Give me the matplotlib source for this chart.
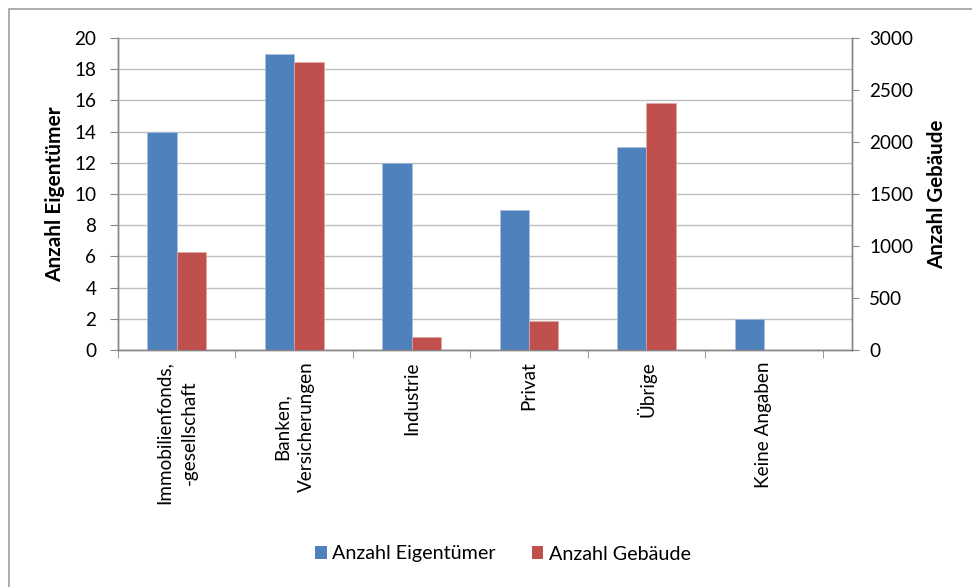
import matplotlib
matplotlib.use("Agg")
import matplotlib.pyplot as plt
from matplotlib.patches import Rectangle, Patch
import numpy as np

plt.rcParams['font.family'] = ['Lato', 'DejaVu Sans']

categories = ["Immobilienfonds,\n-gesellschaft", "Banken,\nVersicherungen", "Industrie",
              "Privat", "Übrige", "Keine Angaben"]
eigentuemer = [14, 19, 12, 9, 13, 2]
gebaeude = [945, 2770, 125, 280, 2375, 0]

blue = "#4F81BD"
red = "#C0504D"
axis_gray = "#868686"
grid_gray = "#BFBFBF"

fs = 13.6

fig = plt.figure(figsize=(9.72, 5.87), dpi=100)
fig.patch.set_facecolor("white")

# outer chart frame
fig.add_artist(Rectangle((9 / 972, -0.02), 1.0, 1 - 9 / 587 + 0.02,
                         transform=fig.transFigure, fill=False,
                         edgecolor="#A0A0A0", linewidth=1.2))

ax = fig.add_axes([118 / 972, 1 - 350 / 587, 734 / 972, 312 / 587])
ax2 = ax.twinx()

x = np.arange(len(categories))
w = 0.25
ax.bar(x - w / 2, eigentuemer, width=w, color=blue, edgecolor="#A9C1E0",
       linewidth=0.5, zorder=3)
ax2.bar(x + w / 2, gebaeude, width=w, color=red, edgecolor="#E0A9A8",
        linewidth=0.5, zorder=3)

ax.set_xlim(-0.5, 5.75)
ax.set_ylim(0, 20)
ax2.set_ylim(0, 3000)
ax.set_yticks(np.arange(0, 21, 2))
ax2.set_yticks(np.arange(0, 3001, 500))

ax.yaxis.grid(True, color=grid_gray, linewidth=1.0, zorder=0)
ax.set_axisbelow(True)

for a in (ax, ax2):
    a.spines["top"].set_visible(False)
    for side in ("left", "right", "bottom"):
        a.spines[side].set_color(axis_gray)
        a.spines[side].set_linewidth(1.0)

ax.tick_params(axis="y", direction="out", length=6, color=axis_gray,
               labelsize=fs, pad=9.5)
ax2.tick_params(axis="y", direction="out", length=5, color=axis_gray,
                labelsize=fs, pad=7.5)

ax.set_xticks(x)
ax.set_xticklabels(categories, rotation=90, ha="center", va="top",
                   multialignment="center", fontsize=fs, linespacing=1.55)
ax.set_xticks(np.arange(-0.5, 6.0, 1.0), minor=True)
ax.tick_params(axis="x", which="major", length=0, pad=8)
ax.tick_params(axis="x", which="minor", direction="out", length=6,
               color=axis_gray)

ax.set_ylabel("Anzahl Eigentümer", fontsize=15, fontweight="bold", labelpad=7)
ax2.set_ylabel("Anzahl Gebäude", fontsize=14.8, fontweight="bold",
               rotation=90, labelpad=10)

handles = [Patch(facecolor=blue, label="Anzahl Eigentümer"),
           Patch(facecolor=red, label="Anzahl Gebäude")]
fig.legend(handles=handles, loc="center", bbox_to_anchor=(503 / 972, 1 - 554 / 587),
           ncol=2, frameon=False, fontsize=14.2, handlelength=0.6,
           handleheight=0.6, handletextpad=0.3, columnspacing=1.8)

fig.savefig("out.png", dpi=100, facecolor="white")
